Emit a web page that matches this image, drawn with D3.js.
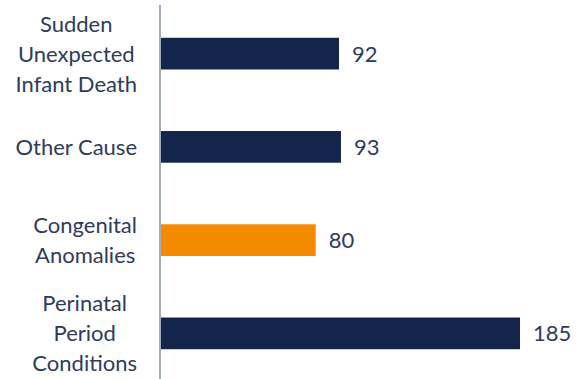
<!DOCTYPE html>
<html>
<head>
<meta charset="utf-8">
<script src="https://cdn.jsdelivr.net/npm/d3@7"></script>
<style>
html,body{margin:0;padding:0;background:#fff;}
svg{display:block;}
text{font-family:Lato,"Open Sans",sans-serif;}
</style>
</head>
<body>
<svg id="chart" width="582" height="379"></svg>
<script>
const categories = ["Sudden\nUnexpected\nInfant Death", "Other Cause", "Congenital\nAnomalies", "Perinatal\nPeriod\nConditions"];
const values = [92, 93, 80, 185];
const highlight = [false, false, true, false];

const svg = d3.select("#chart");
const W = 582, H = 379;
const x0 = 160;
const x = d3.scaleLinear().domain([0, 185]).range([x0, 520]);
const y = d3.scaleBand().domain(categories).range([7, 380]).paddingInner(0.66).paddingOuter(0.33);

const navy = "#13254b", orange = "#f48a00", textColor = "#2f3b5c";
const fs = 22;

svg.selectAll("rect.bar").data(categories).join("rect")
  .attr("class","bar")
  .attr("x", x(0) + 1)
  .attr("y", d => y(d))
  .attr("width", (d,i) => x(values[i]) - x(0) - 1)
  .attr("height", y.bandwidth())
  .attr("fill", (d,i) => highlight[i] ? orange : navy);

svg.append("line")
  .attr("x1", x0).attr("x2", x0)
  .attr("y1", 5).attr("y2", H)
  .attr("stroke", "#8591a3").attr("stroke-width", 1.5);

svg.selectAll("text.val").data(categories).join("text")
  .attr("class","val")
  .attr("x", (d,i) => x(values[i]) + 13)
  .attr("y", d => y(d) + y.bandwidth()/2)
  .attr("dy", "0.36em")
  .attr("font-size", fs)
  .attr("fill", textColor)
  .text((d,i) => values[i]);

const lineH = 30;
const labelRight = 137;
categories.forEach(c => {
  const lines = c.split("\n");
  const g = svg.append("g");
  const cy = y(c) + y.bandwidth()/2;
  const ts = lines.map((ln, j) => g.append("text")
    .attr("y", cy + (j - (lines.length-1)/2) * lineH)
    .attr("dy", "0.36em")
    .attr("font-size", fs)
    .attr("fill", textColor)
    .attr("text-anchor", "middle")
    .text(ln));
  const maxW = d3.max(ts, t => t.node().getComputedTextLength());
  ts.forEach(t => t.attr("x", labelRight - maxW/2));
});
</script>
</body>
</html>
